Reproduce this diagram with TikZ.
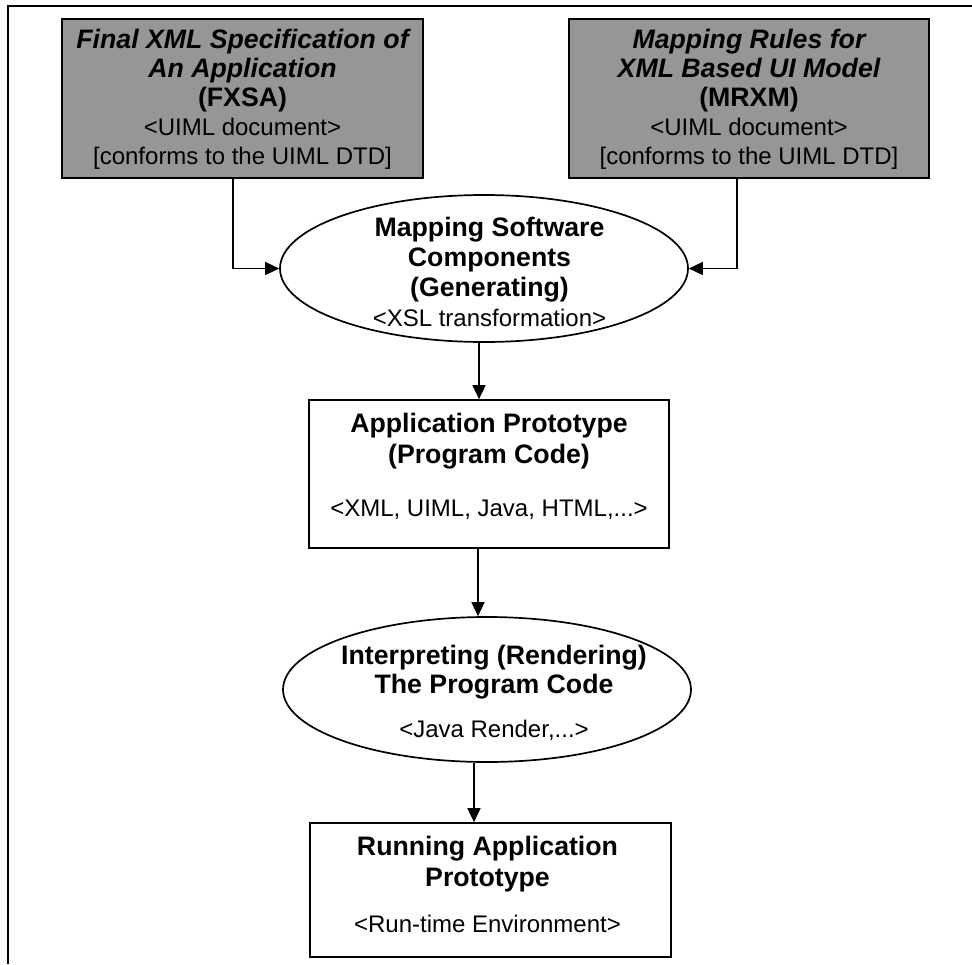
\documentclass[tikz,border=0pt]{standalone}
\usepackage{fontspec}
\setmainfont{Liberation Sans}
\usetikzlibrary{arrows.meta,shapes.geometric}
\definecolor{boxgray}{RGB}{150,150,150}

% font switches for the lines inside the shapes
\newcommand{\bd}{\bfseries\fontsize{26.7}{30}\selectfont}
\newcommand{\bi}{\bfseries\itshape\fontsize{26.7}{30}\selectfont}

% centred block of lines with no size of its own, so the shape keeps
% its given size; #1 moves it down, #2 right, #3 is the line pitch
\newcommand{\ctext}[4]{%
  \vbox to 0pt{\kern#1\kern#1\vss
    \hbox to 0pt{\hss\kern#2\kern#2\fontsize{24}{#3}\selectfont
      \begin{tabular}{@{}c@{}}#4\end{tabular}\hss}\vss}}

\tikzset{
  shapeline/.style={draw=black, line width=1.7pt, inner sep=0pt},
  graybox/.style={shapeline, rectangle, fill=boxgray,
    minimum width=361pt, minimum height=159pt},
  whitebox/.style={shapeline, rectangle, fill=white},
  oval/.style={shapeline, ellipse, fill=white},
  conn/.style={line width=1.7pt, -{Triangle[length=14pt,width=13pt]}},
}

\begin{document}
\begin{tikzpicture}[x=1pt,y=-1pt]
\useasboundingbox (0,0) rectangle (972,964);

% open frame round the flow
\draw[line width=2pt] (972,5.7) -- (7.5,5.7) -- (7.5,964);

% inputs
\node[graybox] (fxsa) at (242.5,98.5)
  {\ctext{1.7pt}{0pt}{29pt}{\bi Final XML Specification of\\ \bi An Application\\ \bd (FXSA)\\ <UIML document>\\ \relax[conforms to the UIML DTD]}};
\node[graybox, minimum width=360pt] (mrxm) at (749,98.5)
  {\ctext{1.7pt}{0pt}{29pt}{\bi Mapping Rules for\\ \bi XML Based UI Model\\ \bd (MRXM)\\ <UIML document>\\ \relax[conforms to the UIML DTD]}};

% generation step
\node[oval, minimum width=408pt, minimum height=147pt] (gen) at (484,268.5)
  {\ctext{7.1pt}{5.5pt}{29.7pt}{\bd Mapping Software\\ \bd Components\\ \bd (Generating)\\ <XSL transformation>}};

% generated prototype
\node[whitebox, minimum width=360pt, minimum height=148pt] (proto) at (489,474)
  {\ctext{-6.2pt}{0pt}{31pt}{\bd Application Prototype\\ \bd (Program Code)\\[22pt] <XML, UIML, Java, HTML,...>}};

% interpretation step
\node[oval, minimum width=408pt, minimum height=145pt] (render) at (487,689.5)
  {\ctext{5.2pt}{7pt}{29pt}{\bd Interpreting (Rendering)\\ \bd The Program Code\\[15pt] <Java Render,...>}};

% running result
\node[whitebox, minimum width=361pt, minimum height=134pt] (run) at (490.5,890)
  {\ctext{-2.7pt}{-3pt}{31pt}{\bd Running Application\\ \bd Prototype\\[15pt] <Run-time Environment>}};

% connectors
\draw[conn] ([xshift=-9.5pt]fxsa.south) |- (gen.west);
\draw[conn] ([xshift=-12pt]mrxm.south) |- (gen.east);
\draw[conn] ([xshift=-5pt]gen.south) -- ([xshift=-10pt]proto.north);
\draw[conn] ([xshift=-11pt]proto.south) -- ([xshift=-9pt]render.north);
\draw[conn] ([xshift=-13pt]render.south) -- ([xshift=-16.5pt]run.north);
\end{tikzpicture}
\end{document}
